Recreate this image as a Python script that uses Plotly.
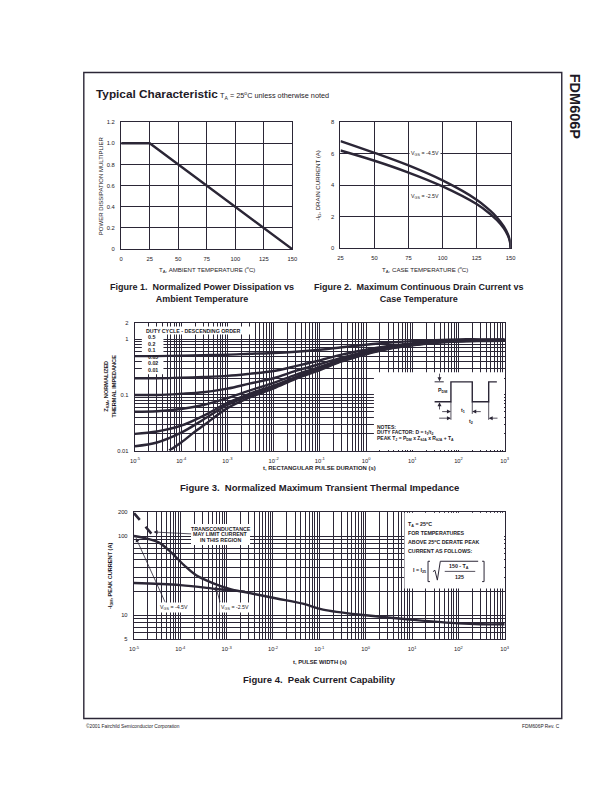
import plotly.graph_objects as go

# page is 612x792; the html body keeps an 8px margin, so the figure is a bit smaller
W, H = 612, 792
OFF = 8
FW, FH = W - OFF, H - OFF
INK = "#2b2636"
FONT = "Liberation Sans, Arial, sans-serif"

# ---- Figure 1 data: power derating
temp_amb = [0, 25, 150]
power_mult = [1.0, 1.0, 0.0]
fig1_xticks = [0, 25, 50, 75, 100, 125, 150]
fig1_yticks = [0, 0.2, 0.4, 0.6, 0.8, 1.0, 1.2]
fig1_ylabels = ["0", "0.2", "0.4", "0.6", "0.8", "1.0", "1.2"]

# ---- Figure 2 data: max continuous drain current
temp_case = [25, 50, 75, 100, 125, 135, 140, 145, 148, 149.5, 150]
id_vgs45 = [6.8, 6.05, 5.25, 4.3, 3.08, 2.38, 1.95, 1.38, 0.88, 0.46, 0]
id_vgs25 = [6.2, 5.55, 4.8, 3.92, 2.8, 2.17, 1.77, 1.26, 0.8, 0.42, 0]
fig2_xticks = [25, 50, 75, 100, 125, 150]
fig2_yticks = [0, 2, 4, 6, 8]

# ---- Figure 3 data: transient thermal impedance
t_pulse = [1e-5, 3e-5, 1e-4, 3e-4, 1e-3, 3e-3, 1e-2, 3e-2, 1e-1, 3e-1,
           1, 3, 10, 30, 100, 300, 1000]
z_d050 = [0.5, 0.5, 0.51, 0.52, 0.53, 0.55, 0.57, 0.6, 0.65, 0.72, 0.8, 0.87, 0.93, 0.97, 1.0, 1.0, 1.0]
z_d020 = [0.2, 0.2, 0.205, 0.21, 0.22, 0.24, 0.27, 0.33, 0.42, 0.53, 0.65, 0.76, 0.85, 0.92, 0.96, 0.98, 0.99]
z_d010 = [0.1, 0.1, 0.105, 0.112, 0.13, 0.16, 0.2, 0.27, 0.36, 0.47, 0.6, 0.72, 0.82, 0.9, 0.95, 0.97, 0.98]
z_d005 = [0.05, 0.051, 0.056, 0.066, 0.088, 0.12, 0.165, 0.23, 0.32, 0.44, 0.57, 0.7, 0.81, 0.89, 0.94, 0.96, 0.97]
z_d002 = [0.02, 0.022, 0.028, 0.042, 0.072, 0.105, 0.148, 0.21, 0.3, 0.42, 0.56, 0.69, 0.8, 0.88, 0.93, 0.95, 0.96]
z_d001 = [0.012, 0.014, 0.021, 0.036, 0.066, 0.098, 0.14, 0.2, 0.29, 0.41, 0.55, 0.68, 0.79, 0.87, 0.92, 0.94, 0.95]
t_single = [5.5e-5, 1e-4, 2e-4, 3e-4, 1e-3, 3e-3, 1e-2, 3e-2, 1e-1, 3e-1,
            1, 3, 10, 30, 100, 300, 1000]
z_single = [0.01, 0.014, 0.022, 0.028, 0.058, 0.09, 0.132, 0.195, 0.28, 0.4, 0.54, 0.67, 0.78, 0.86, 0.91, 0.93, 0.94]
duty_labels = ["0.5", "0.2", "0.1", "0.05", "0.02", "0.01"]
decade_ticks = [1e-5, 1e-4, 1e-3, 1e-2, 1e-1, 1, 10, 100, 1000]
decade_labels = ["10<sup>-5</sup>", "10<sup>-4</sup>", "10<sup>-3</sup>", "10<sup>-2</sup>",
                 "10<sup>-1</sup>", "10<sup>0</sup>", "10<sup>1</sup>", "10<sup>2</sup>", "10<sup>3</sup>"]
fig3_yticks = [0.01, 0.1, 1, 2]

# ---- Figure 4 data: peak current capability
t_peak45 = [1e-5, 2e-5, 3.4e-5, 6e-5, 1.2e-4, 2.2e-4, 5e-4, 1.2e-3, 3.7e-3, 1.2e-2,
            4.4e-2, 1.2e-1, 1, 10, 100, 300, 1000]
i_peak45 = [100, 92, 83, 64, 43, 32, 25.5, 21.4, 18.7, 16.3, 14, 11.8, 10, 8.8, 7.9, 7.7, 7.7]
t_peak25 = [1e-5, 1e-4, 6e-4, 1.2e-3, 2.5e-3]
i_peak25 = [25.5, 24, 21.5, 20.6, 19.9]
t_transc = [1e-5, 2.7e-5]
i_transc = [195, 98]
fig4_yticks = [5, 10, 100, 200]

# plot boxes in page pixels: left, right, top, bottom
BOX1 = (118, 292, 120, 248)
BOX2 = (341, 514, 120, 247)
BOX3 = (132, 508, 322, 451)
BOX4 = (131, 508, 513, 641)
RANGE3 = ([-5, 3], [-2, 0.30103])
RANGE4 = ([-5, 3], [0.69897, 2.30103])


def px(x):
    return (x - OFF) / FW


def py(y):
    return 1 - (y - OFF) / FH


def note(x, y, text, size=5.5, anchor="left", bg=None, angle=0, bold=False):
    if bold:
        text = "<b>" + text + "</b>"
    a = dict(xref="paper", yref="paper", x=px(x), y=py(y), text=text, showarrow=False,
             xanchor=anchor, yanchor="middle", textangle=angle,
             font=dict(family=FONT, size=size, color="#1e1a26"))
    if bg:
        a.update(bgcolor=bg, borderpad=1)
    return a


def arrow(hx, hy, tx, ty, head=2, width=0.8):
    return dict(xref="paper", yref="paper", x=px(hx), y=py(hy), ax=tx - hx, ay=ty - hy,
                text="", showarrow=True, arrowhead=head, arrowsize=1, arrowwidth=width,
                arrowcolor=INK)


def path(points, width=1.2):
    d = "M " + " L ".join(f"{px(x):.5f},{py(y):.5f}" for x, y in points)
    return dict(type="path", xref="paper", yref="paper", path=d,
                line=dict(color=INK, width=width), layer="above")


def white_patch(sub, bounds, ranges, x0, y0, x1, y1):
    # white patch inside a log-log subplot: covers the grid, stays under the curves
    l, r, t, b = bounds
    xr, yr = ranges

    def to_x(X):
        return 10 ** (xr[0] + (X - l) / (r - l) * (xr[1] - xr[0]))

    def to_y(Y):
        return 10 ** (yr[0] + (b - Y) / (b - t) * (yr[1] - yr[0]))

    xs = [to_x(x0), to_x(x1), to_x(x1), to_x(x0), to_x(x0)]
    ys = [to_y(y0), to_y(y0), to_y(y1), to_y(y1), to_y(y0)]
    return go.Scatter(x=xs, y=ys, mode="lines", fill="toself", fillcolor="white",
                      line=dict(width=0, color="white"), hoverinfo="skip",
                      xaxis=f"x{sub}", yaxis=f"y{sub}")


def dom_x(bounds):
    return [px(bounds[0]), px(bounds[1])]


def dom_y(bounds):
    return [py(bounds[3]), py(bounds[2])]


fig = go.Figure()
line_style = dict(color=INK, width=2.4)

# background patches for the inset notes (drawn first)
fig.add_trace(white_patch(3, BOX3, RANGE3, 139, 326, 252, 334))
fig.add_trace(white_patch(3, BOX3, RANGE3, 139, 333, 161, 374))
fig.add_trace(white_patch(3, BOX3, RANGE3, 375, 372, 507.3, 450.5))
fig.add_trace(white_patch(4, BOX4, RANGE4, 406, 513.5, 507.3, 590))
fig.add_trace(white_patch(4, BOX4, RANGE4, 189, 525, 249, 546))

fig.add_trace(go.Scatter(x=temp_amb, y=power_mult, mode="lines", line=line_style,
                         xaxis="x", yaxis="y"))
fig.add_trace(go.Scatter(x=temp_case, y=id_vgs45, mode="lines", line=line_style,
                         line_shape="spline", xaxis="x2", yaxis="y2"))
fig.add_trace(go.Scatter(x=temp_case, y=id_vgs25, mode="lines", line=line_style,
                         line_shape="spline", xaxis="x2", yaxis="y2"))
for z in [z_d050, z_d020, z_d010, z_d005, z_d002, z_d001]:
    fig.add_trace(go.Scatter(x=t_pulse, y=z, mode="lines", line=line_style,
                             line_shape="spline", xaxis="x3", yaxis="y3"))
fig.add_trace(go.Scatter(x=t_single, y=z_single, mode="lines", line=line_style,
                         line_shape="spline", xaxis="x3", yaxis="y3"))
fig.add_trace(go.Scatter(x=t_peak45, y=i_peak45, mode="lines", line=line_style,
                         line_shape="spline", xaxis="x4", yaxis="y4"))
fig.add_trace(go.Scatter(x=t_peak25, y=i_peak25, mode="lines", line=line_style,
                         line_shape="spline", xaxis="x4", yaxis="y4"))
fig.add_trace(go.Scatter(x=t_transc, y=i_transc, mode="lines",
                         line=dict(color=INK, width=2.6, dash="dash"), xaxis="x4", yaxis="y4"))

tickfont = dict(family=FONT, size=5.8, color="#1e1a26")
common = dict(showline=True, mirror=True, linecolor=INK, linewidth=1.4, showgrid=True,
              gridcolor=INK, gridwidth=1, zeroline=False, ticks="outside", ticklen=4,
              tickcolor="rgba(0,0,0,0)", tickfont=tickfont, fixedrange=True)
minor = dict(dtick="D1", showgrid=True, gridcolor=INK, gridwidth=0.9, ticks="")

fig.update_layout(
    width=FW, height=FH, margin=dict(l=0, r=0, t=0, b=0),
    paper_bgcolor="white", plot_bgcolor="white", showlegend=False,
    xaxis=dict(common, domain=dom_x(BOX1), range=[0, 150], tickvals=fig1_xticks, anchor="y"),
    yaxis=dict(common, domain=dom_y(BOX1), range=[0, 1.2], tickvals=fig1_yticks,
               ticktext=fig1_ylabels, anchor="x"),
    xaxis2=dict(common, domain=dom_x(BOX2), range=[25, 150], tickvals=fig2_xticks, anchor="y2"),
    yaxis2=dict(common, domain=dom_y(BOX2), range=[0, 8], tickvals=fig2_yticks, anchor="x2"),
    xaxis3=dict(common, type="log", domain=dom_x(BOX3), range=RANGE3[0],
                tickvals=decade_ticks, ticktext=decade_labels, minor=minor, anchor="y3"),
    yaxis3=dict(common, type="log", domain=dom_y(BOX3), range=RANGE3[1],
                tickvals=fig3_yticks, ticktext=["0.01", "0.1", "1", "2"], minor=minor, anchor="x3"),
    xaxis4=dict(common, type="log", domain=dom_x(BOX4), range=RANGE4[0],
                tickvals=decade_ticks, ticktext=decade_labels, minor=minor, anchor="y4"),
    yaxis4=dict(common, type="log", domain=dom_y(BOX4), range=RANGE4[1],
                tickvals=fig4_yticks, ticktext=["5", "10", "100", "200"], minor=minor, anchor="x4"),
)

shapes = [
    dict(type="rect", xref="paper", yref="paper", x0=px(80), x1=px(566), y0=py(721), y1=py(70),
         layer="below", line=dict(color=INK, width=1.4)),
    # pulse diagram
    path([(436.7, 401.7), (453.3, 401.7), (453.3, 381.7), (475, 381.7), (475, 401.7),
          (491.7, 401.7), (491.7, 381.7), (500, 381.7)], width=1.4),
    path([(436.7, 381.7), (446, 381.7)], width=1),
    path([(453.3, 401.7), (453.3, 420)], width=0.8),
    path([(475, 401.7), (475, 414)], width=0.8),
    path([(491.7, 401.7), (491.7, 420)], width=0.8),
    # sqrt derating formula
    path([(432, 562.5), (430, 562.5), (430, 583), (432, 583)], width=1),
    path([(485, 562.5), (487, 562.5), (487, 583), (485, 583)], width=1),
    path([(435, 573), (437, 571.5), (439.5, 581.5), (442.5, 562.5), (481, 562.5)], width=1),
    path([(447, 572.7), (478, 572.7)], width=0.8),
]

ann = [
    note(90, 92, "Typical Characteristic", size=11.8, bold=True),
    note(216, 93, "T<sub>A</sub> = 25<sup>o</sup>C unless otherwise noted", size=7.3),
    note(579, 104, "FDM606P", size=14.5, anchor="center", angle=90, bold=True),
    note(80, 729, "©2001 Fairchild Semiconductor Corporation", size=4.8),
    note(566, 729, "FDM606P Rev. C", size=4.8, anchor="right"),
    # axis titles
    note(205, 268, "T<sub>A</sub>, AMBIENT TEMPERATURE (<sup>o</sup>C)", size=6.1, anchor="center"),
    note(97, 184, "POWER DISSIPATION MULTIPLIER", size=6, anchor="center", angle=-90),
    note(427, 268, "T<sub>A</sub>, CASE TEMPERATURE (<sup>o</sup>C)", size=6.1, anchor="center"),
    note(318, 184, "-I<sub>D</sub>, DRAIN CURRENT (A)", size=6.1, anchor="center", angle=-90),
    note(320, 469, "t, RECTANGULAR PULSE DURATION (s)", size=5.9, anchor="center", bold=True),
    note(106, 386, "Z<sub>θJA</sub>, NORMALIZED<br>THERMAL IMPEDANCE", size=5.6, anchor="center",
         angle=-90, bold=True),
    note(320, 664, "t, PULSE WIDTH (s)", size=5.8, anchor="center", bold=True),
    note(107, 577, "-I<sub>DM</sub>, PEAK CURRENT (A)", size=5.6, anchor="center", angle=-90, bold=True),
    # captions
    note(200, 292, "Figure 1.\u00a0 Normalized Power Dissipation vs<br>Ambient Temperature",
         size=9, anchor="center", bold=True),
    note(421, 292, "Figure 2.\u00a0 Maximum Continuous Drain Current vs<br>Case Temperature",
         size=9, anchor="center", bold=True),
    note(320, 488, "Figure 3.\u00a0 Normalized Maximum Transient Thermal Impedance",
         size=9.5, anchor="center", bold=True),
    note(320, 682, "Figure 4.\u00a0 Peak Current Capability", size=9.5, anchor="center", bold=True),
    # fig3 legend
    note(141, 330, "DUTY CYCLE - DESCENDING ORDER", size=5.3, bold=True),
    # fig3 notes
    note(438, 390, "P<sub>DM</sub>", size=5.3, bold=True),
    note(461, 410.5, "t<sub>1</sub>", size=5.3, bold=True),
    note(470, 421.5, "t<sub>2</sub>", size=5.3, bold=True),
    note(376, 427, "NOTES:", size=5, bold=True),
    note(376, 432.5, "DUTY FACTOR: D = t<sub>1</sub>/t<sub>2</sub>", size=5, bold=True),
    note(376, 438.5, "PEAK T<sub>J</sub> = P<sub>DM</sub> x Z<sub>θJA</sub> x R<sub>θJA</sub> + T<sub>A</sub>",
         size=5, bold=True),
    arrow(441.7, 381.2, 441.7, 372),
    arrow(441.7, 402.2, 441.7, 411),
    arrow(453.3, 411.7, 443, 411.7),
    arrow(475, 411.7, 485, 411.7),
    arrow(453.3, 418.3, 440, 418.3),
    arrow(491.7, 418.3, 502, 418.3),
    # fig4 notes
    note(408, 525, "T<sub>A</sub> = 25<sup>o</sup>C", size=5.3, bold=True),
    note(408, 534, "FOR TEMPERATURES", size=5.3, bold=True),
    note(408, 543, "ABOVE 25<sup>o</sup>C DERATE PEAK", size=5.3, bold=True),
    note(408, 552.5, "CURRENT AS FOLLOWS:", size=5.3, bold=True),
    note(421, 572, "I = I<sub>25</sub>", size=5.3, anchor="center", bold=True),
    note(462, 567.5, "150 - T<sub>A</sub>", size=5.3, anchor="center", bold=True),
    note(462, 578.5, "125", size=5.3, anchor="center", bold=True),
    note(219, 530, "TRANSCONDUCTANCE", size=5.3, anchor="center", bold=True),
    note(219, 535.5, "MAY LIMIT CURRENT", size=5.3, anchor="center", bold=True),
    note(219, 541, "IN THIS REGION", size=5.3, anchor="center", bold=True),
    arrow(151, 533, 190, 535, head=2),
    arrow(133, 539, 163, 605, head=2),
    arrow(214, 588, 219, 605, head=2),
    note(172, 609, "V<sub>GS</sub> = -4.5V", size=5.3, anchor="center", bg="white"),
    note(234, 609, "V<sub>GS</sub> = -2.5V", size=5.3, anchor="center", bg="white"),
    # fig2 curve labels
    dict(xref="x2", yref="y2", x=87, y=6.0, text="V<sub>GS</sub> = -4.5V", showarrow=False,
         bgcolor="white", font=dict(family=FONT, size=5.3, color="#1e1a26")),
    dict(xref="x2", yref="y2", x=87, y=3.3, text="V<sub>GS</sub> = -2.5V", showarrow=False,
         bgcolor="white", font=dict(family=FONT, size=5.3, color="#1e1a26")),
]
for i, lab in enumerate(duty_labels):
    ann.append(note(143, 336.5 + i * 6.6, lab, size=5.3, bold=True))

fig.update_layout(shapes=shapes, annotations=ann)
fig.write_html("out.html")
